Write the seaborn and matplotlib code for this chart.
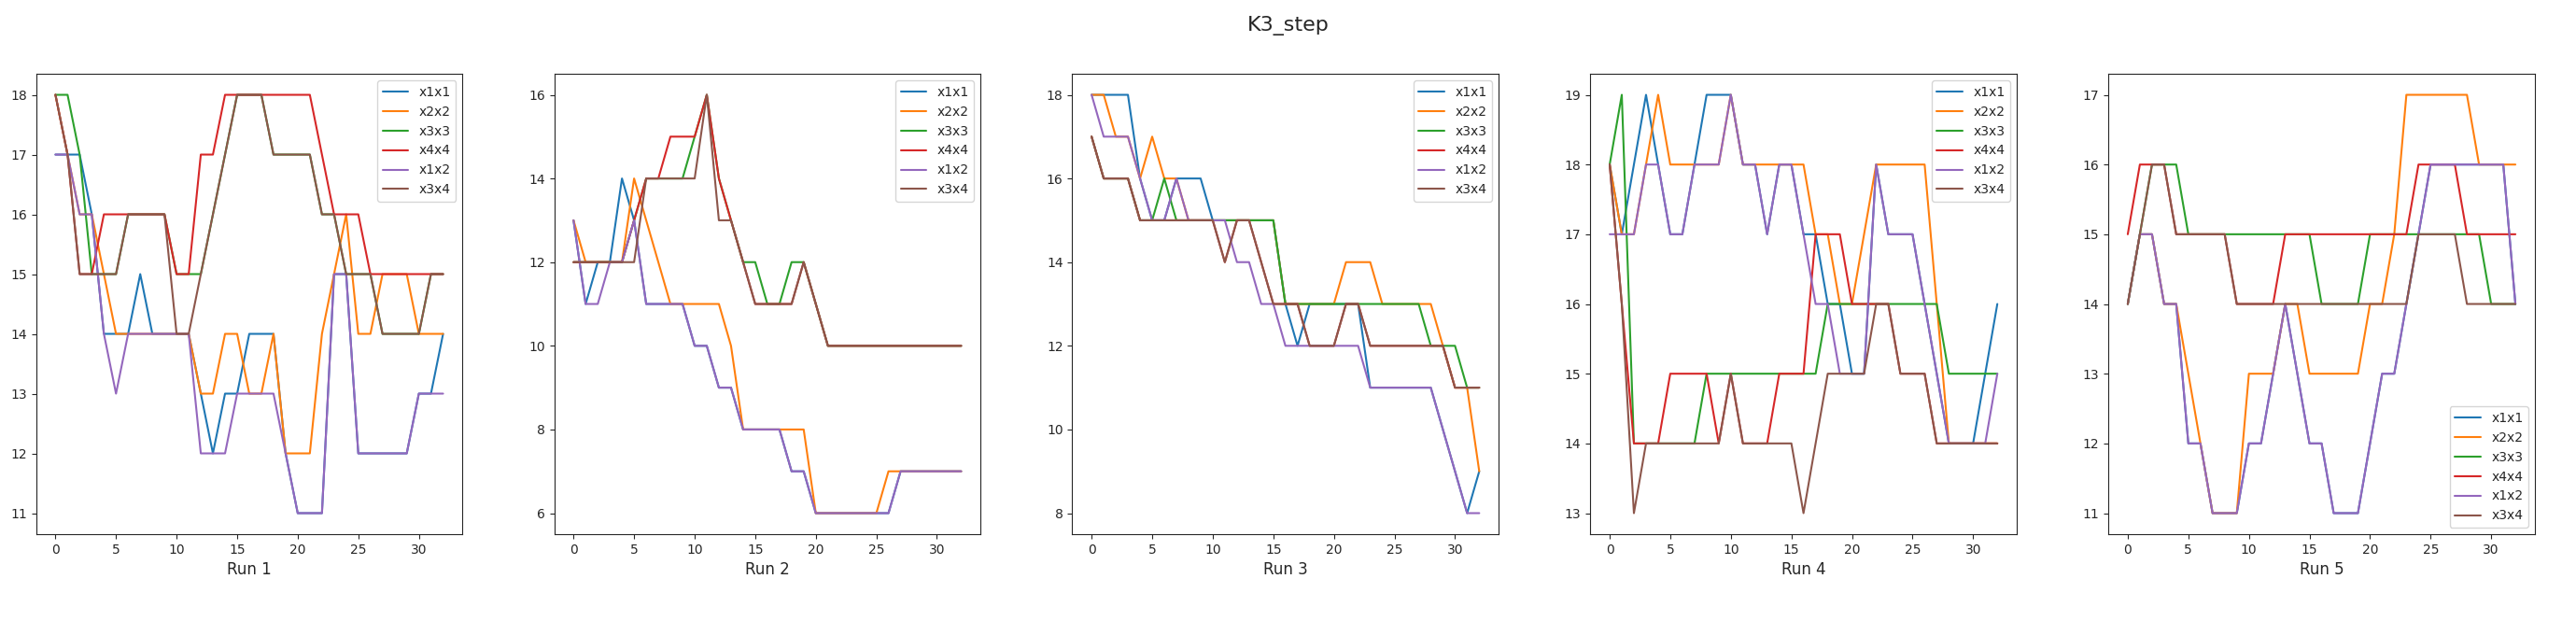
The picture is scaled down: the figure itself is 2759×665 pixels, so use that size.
import matplotlib
matplotlib.use("Agg")
import matplotlib.pyplot as plt
import seaborn as sns
import pandas as pd

series_names = ["x1x1", "x2x2", "x3x3", "x4x4", "x1x2", "x3x4"]
run_labels = ["Run 1", "Run 2", "Run 3", "Run 4", "Run 5"]
steps = list(range(33))

run1 = {
    "x1x1": [17,17,17,16,14,14,14,15,14,14,14,14,13,12,13,13,14,14,14,12,11,11,11,15,15,12,12,12,12,12,13,13,14],
    "x2x2": [18,17,16,16,15,14,14,14,14,14,14,14,13,13,14,14,13,13,14,12,12,12,14,15,16,14,14,15,15,15,14,14,14],
    "x3x3": [18,18,17,15,15,15,16,16,16,16,15,15,15,16,17,18,18,18,17,17,17,17,16,16,15,15,15,14,14,14,14,15,15],
    "x4x4": [18,17,15,15,16,16,16,16,16,16,15,15,17,17,18,18,18,18,18,18,18,18,17,16,16,16,15,15,15,15,15,15,15],
    "x1x2": [17,17,16,16,14,13,14,14,14,14,14,14,12,12,12,13,13,13,13,12,11,11,11,15,15,12,12,12,12,12,13,13,13],
    "x3x4": [18,17,15,15,15,15,16,16,16,16,14,14,15,16,17,18,18,18,17,17,17,17,16,16,15,15,15,14,14,14,14,15,15],
}
run2 = {
    "x1x1": [13,11,12,12,14,13,11,11,11,11,10,10,9,9,8,8,8,8,7,7,6,6,6,6,6,6,6,7,7,7,7,7,7],
    "x2x2": [13,12,12,12,12,14,13,12,11,11,11,11,11,10,8,8,8,8,8,8,6,6,6,6,6,6,7,7,7,7,7,7,7],
    "x3x3": [12,12,12,12,12,13,14,14,14,14,15,16,14,13,12,12,11,11,12,12,11,10,10,10,10,10,10,10,10,10,10,10,10],
    "x4x4": [12,12,12,12,12,13,14,14,15,15,15,16,14,13,12,11,11,11,11,12,11,10,10,10,10,10,10,10,10,10,10,10,10],
    "x1x2": [13,11,11,12,12,13,11,11,11,11,10,10,9,9,8,8,8,8,7,7,6,6,6,6,6,6,6,7,7,7,7,7,7],
    "x3x4": [12,12,12,12,12,12,14,14,14,14,14,16,13,13,12,11,11,11,11,12,11,10,10,10,10,10,10,10,10,10,10,10,10],
}
run3 = {
    "x1x1": [18,18,18,18,16,15,15,16,16,16,15,15,15,15,15,15,13,12,13,13,13,13,13,11,11,11,11,11,11,10,9,8,9],
    "x2x2": [18,18,17,17,16,17,16,16,15,15,15,15,15,15,15,15,13,13,13,13,13,14,14,14,13,13,13,13,13,12,11,11,9],
    "x3x3": [17,16,16,16,15,15,16,15,15,15,15,15,15,15,15,15,13,13,13,13,13,13,13,13,13,13,13,13,12,12,12,11,11],
    "x4x4": [17,16,16,16,15,15,15,15,15,15,15,14,15,15,14,13,13,13,12,12,12,13,13,12,12,12,12,12,12,12,11,11,11],
    "x1x2": [18,17,17,17,16,15,15,16,15,15,15,15,14,14,13,13,12,12,12,12,12,12,12,11,11,11,11,11,11,10,9,8,8],
    "x3x4": [17,16,16,16,15,15,15,15,15,15,15,14,15,15,14,13,13,13,12,12,12,13,13,12,12,12,12,12,12,12,11,11,11],
}
run4 = {
    "x1x1": [18,17,18,19,18,17,17,18,19,19,19,18,18,17,18,18,17,17,16,16,15,15,18,17,17,17,16,15,14,14,14,15,16],
    "x2x2": [18,17,17,18,19,18,18,18,18,18,19,18,18,18,18,18,18,17,17,16,16,17,18,18,18,18,18,16,14,14,14,14,14],
    "x3x3": [18,19,14,14,14,14,14,14,15,15,15,15,15,15,15,15,15,15,16,16,16,16,16,16,16,16,16,16,15,15,15,15,15],
    "x4x4": [18,16,14,14,14,15,15,15,15,14,15,14,14,14,15,15,15,17,17,17,16,16,16,16,15,15,15,14,14,14,14,14,14],
    "x1x2": [17,17,17,18,18,17,17,18,18,18,19,18,18,17,18,18,17,16,16,15,15,15,18,17,17,17,16,15,14,14,14,14,15],
    "x3x4": [18,16,13,14,14,14,14,14,14,14,15,14,14,14,14,14,13,14,15,15,15,15,16,16,15,15,15,14,14,14,14,14,14],
}
run5 = {
    "x1x1": [14,15,15,14,14,12,12,11,11,11,12,12,13,14,13,12,12,11,11,11,12,13,13,14,15,16,16,16,16,16,16,16,14],
    "x2x2": [14,15,15,14,14,13,12,11,11,11,13,13,13,14,14,13,13,13,13,13,14,14,15,17,17,17,17,17,17,16,16,16,16],
    "x3x3": [14,15,16,16,16,15,15,15,15,15,15,15,15,15,15,15,14,14,14,14,15,15,15,15,15,15,15,15,15,15,14,14,14],
    "x4x4": [15,16,16,16,15,15,15,15,15,14,14,14,14,15,15,15,15,15,15,15,15,15,15,15,16,16,16,16,15,15,15,15,15],
    "x1x2": [14,15,15,14,14,12,12,11,11,11,12,12,13,14,13,12,12,11,11,11,12,13,13,14,15,16,16,16,16,16,16,16,14],
    "x3x4": [14,15,16,16,15,15,15,15,15,14,14,14,14,14,14,14,14,14,14,14,14,14,14,14,15,15,15,15,14,14,14,14,14],
}
runs = [run1, run2, run3, run4, run5]
legend_locs = ["upper right"] * 4 + ["lower right"]

sns.set_style("ticks")
plt.rcParams["font.family"] = ["DejaVu Sans"]
fig, axes = plt.subplots(1, 5, figsize=(27.59, 6.65), dpi=100)
palette = sns.color_palette("tab10", 6)

for ax, run, label, loc in zip(axes, runs, run_labels, legend_locs):
    rows = []
    for name in series_names:
        for s, v in zip(steps, run[name]):
            rows.append({"step": s, "value": v, "series": name})
    df = pd.DataFrame(rows)
    sns.lineplot(data=df, x="step", y="value", hue="series", hue_order=series_names,
                 palette=palette, ax=ax, linewidth=1.5)
    ax.set_xlabel(label, fontsize=12)
    ax.set_ylabel("")
    ax.legend(loc=loc, fontsize=10)
    ax.set_xticks([0, 5, 10, 15, 20, 25, 30])

fig.suptitle("K3_step", fontsize=16, y=0.975)
fig.subplots_adjust(left=0.014, right=0.984, top=0.881, bottom=0.14, wspace=0.215)
fig.savefig("out.png", dpi=100)
